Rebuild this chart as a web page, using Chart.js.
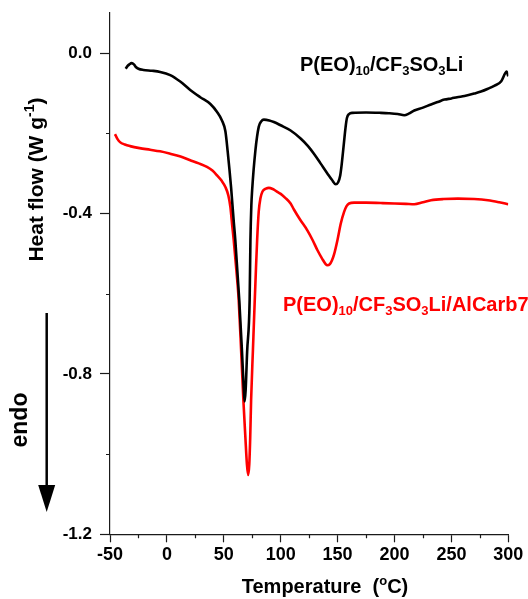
<!DOCTYPE html>
<html>
<head>
<meta charset="utf-8">
<script src="https://cdn.jsdelivr.net/npm/chart.js@4.4.1/dist/chart.umd.min.js"></script>
<style>
  html, body { margin: 0; padding: 0; background: #fff; }
  #c { display: block; }
</style>
</head>
<body>
<canvas id="c" width="528" height="599"></canvas>
<script>
// DSC heating traces, heat flow in W/g against temperature in °C
const tempNeat = [-36.2, -34.5, -33.0, -30.9, -29.0, -27.5, -25.0, -20.6, -13.0, -5.9, 2.9, 11.7, 20.5, 29.3, 38.2, 44.1, 48.4, 51.4, 53.4, 56.4, 58.6, 60.1, 63.6, 66.0, 67.5, 68.3, 69.2, 70.5, 72.7, 73.4, 74.2, 74.9, 77.8, 80.7, 83.0, 85.2, 90.0, 94.0, 99.9, 108.7, 117.5, 124.0, 129.2, 135.0, 141.0, 145.0, 148.4, 150.5, 152.3, 153.5, 154.8, 155.7, 157.0, 158.2, 160.0, 163.1, 175.0, 188.0, 195.0, 202.8, 208.6, 212.5, 217.4, 225.0, 232.1, 238.0, 243.9, 250.0, 255.0, 261.5, 270.0, 276.0, 282.1, 288.0, 293.8, 297.3, 298.5, 300.0];
const flowNeat = [-0.039, -0.032, -0.028, -0.025, -0.028, -0.034, -0.039, -0.042, -0.044, -0.047, -0.055, -0.071, -0.092, -0.110, -0.127, -0.147, -0.168, -0.195, -0.245, -0.335, -0.415, -0.466, -0.616, -0.745, -0.835, -0.869, -0.840, -0.745, -0.616, -0.466, -0.380, -0.342, -0.242, -0.184, -0.170, -0.166, -0.168, -0.172, -0.180, -0.193, -0.213, -0.232, -0.251, -0.275, -0.300, -0.316, -0.327, -0.322, -0.305, -0.280, -0.245, -0.220, -0.185, -0.162, -0.152, -0.149, -0.148, -0.149, -0.150, -0.152, -0.155, -0.151, -0.143, -0.136, -0.128, -0.122, -0.116, -0.113, -0.110, -0.107, -0.101, -0.096, -0.089, -0.081, -0.070, -0.050, -0.046, -0.058];

const tempComposite = [-45.6, -43.5, -41.2, -37.0, -32.4, -24.0, -14.7, -6.0, 2.9, 12.0, 20.5, 28.0, 35.2, 40.0, 44.1, 48.0, 51.4, 54.0, 55.8, 57.4, 58.7, 61.0, 63.1, 65.2, 67.2, 69.0, 70.3, 71.4, 72.4, 73.2, 74.0, 75.6, 77.2, 78.3, 79.3, 80.7, 82.2, 84.0, 87.0, 89.6, 93.0, 97.0, 100.0, 104.0, 108.7, 111.6, 117.0, 123.4, 128.0, 132.2, 136.5, 139.5, 141.0, 143.0, 145.0, 146.9, 149.9, 152.8, 155.7, 158.0, 160.1, 164.5, 175.0, 188.0, 200.0, 210.0, 217.4, 225.0, 232.1, 243.0, 255.7, 270.0, 282.1, 292.0, 300.0];
const flowComposite = [-0.202, -0.214, -0.222, -0.228, -0.232, -0.237, -0.241, -0.245, -0.251, -0.258, -0.267, -0.275, -0.284, -0.293, -0.305, -0.318, -0.334, -0.355, -0.384, -0.430, -0.466, -0.540, -0.616, -0.740, -0.865, -0.960, -1.025, -1.052, -1.025, -0.960, -0.865, -0.740, -0.616, -0.535, -0.466, -0.395, -0.362, -0.345, -0.338, -0.336, -0.339, -0.346, -0.351, -0.361, -0.375, -0.390, -0.415, -0.442, -0.466, -0.491, -0.513, -0.526, -0.529, -0.527, -0.517, -0.502, -0.466, -0.425, -0.396, -0.381, -0.375, -0.373, -0.373, -0.374, -0.375, -0.376, -0.377, -0.372, -0.367, -0.364, -0.363, -0.364, -0.367, -0.372, -0.377];

const xTicks = [-50, 0, 50, 100, 150, 200, 250, 300];
const xMinorTicks = [-25, 25, 75, 125, 175, 225, 275];
const yTicks = [0.0, -0.4, -0.8, -1.2];
const yMinorTicks = [-0.2, -0.6, -1.0];

// rich-text pieces (sub = subscript, sup = superscript)
const labelNeat = [{t: 'P(EO)'}, {t: '10', sub: true}, {t: '/CF'}, {t: '3', sub: true}, {t: 'SO'}, {t: '3', sub: true}, {t: 'Li'}];
const labelComposite = [{t: 'P(EO)'}, {t: '10', sub: true}, {t: '/CF'}, {t: '3', sub: true}, {t: 'SO'}, {t: '3', sub: true}, {t: 'Li/AlCarb7'}];
const yTitle = [{t: 'Heat flow (W g'}, {t: '-1', sup: true}, {t: ')'}];
const xTitle = [{t: 'Temperature  ('}, {t: 'o', sup: true}, {t: 'C)'}];

const FONT = '"Liberation Sans", Arial, Helvetica, sans-serif';
const AXIS_COLOR = '#1a1a1a';

function pieceSize(p, size) { return (p.sub || p.sup) ? Math.round(size * 0.66) : size; }

function richWidth(ctx, parts, size) {
  let w = 0;
  for (const p of parts) {
    ctx.font = 'bold ' + pieceSize(p, size) + 'px ' + FONT;
    w += ctx.measureText(p.t).width;
  }
  return w;
}

function drawRich(ctx, parts, x, y, size, color) {
  ctx.save();
  ctx.fillStyle = color;
  ctx.textAlign = 'left';
  ctx.textBaseline = 'alphabetic';
  let cx = x;
  for (const p of parts) {
    ctx.font = 'bold ' + pieceSize(p, size) + 'px ' + FONT;
    const dy = p.sub ? size * 0.22 : (p.sup ? -size * 0.40 : 0);
    ctx.fillText(p.t, cx, y + dy);
    cx += ctx.measureText(p.t).width;
  }
  ctx.restore();
}

// minor ticks, axis titles, trace labels and the endotherm arrow
const decorations = {
  id: 'decorations',
  afterDraw(chart) {
    const ctx = chart.ctx;
    const xs = chart.scales.x, ys = chart.scales.y;
    const area = chart.chartArea;

    ctx.save();
    ctx.strokeStyle = AXIS_COLOR;
    ctx.lineWidth = 1.2;
    ctx.beginPath();
    for (const v of xMinorTicks) {
      const px = Math.round(xs.getPixelForValue(v)) + 0.5;
      ctx.moveTo(px, area.bottom);
      ctx.lineTo(px, area.bottom + 4);
    }
    for (const v of yMinorTicks) {
      const py = Math.round(ys.getPixelForValue(v)) + 0.5;
      ctx.moveTo(area.left, py);
      ctx.lineTo(area.left - 4, py);
    }
    ctx.stroke();
    ctx.restore();

    // axis titles
    const xw = richWidth(ctx, xTitle, 20);
    drawRich(ctx, xTitle, 325 - xw / 2, 593, 20, '#000');

    const yw = richWidth(ctx, yTitle, 21);
    ctx.save();
    ctx.translate(42.5, 179.5);
    ctx.rotate(-Math.PI / 2);
    drawRich(ctx, yTitle, -yw / 2, 0, 21, '#000');
    ctx.restore();

    // trace labels
    drawRich(ctx, labelNeat, 300, 71, 20, '#000');
    drawRich(ctx, labelComposite, 283, 310.5, 20, '#ff0000');

    // endo arrow
    ctx.save();
    ctx.translate(26.5, 420);
    ctx.rotate(-Math.PI / 2);
    ctx.font = 'bold 23px ' + FONT;
    ctx.fillStyle = '#000';
    ctx.textAlign = 'center';
    ctx.textBaseline = 'alphabetic';
    ctx.fillText('endo', 0, 0);
    ctx.restore();

    ctx.save();
    ctx.strokeStyle = '#000';
    ctx.fillStyle = '#000';
    ctx.lineWidth = 2.5;
    ctx.beginPath();
    ctx.moveTo(46.7, 313);
    ctx.lineTo(46.7, 488);
    ctx.stroke();
    ctx.beginPath();
    ctx.moveTo(38.2, 485);
    ctx.lineTo(55.2, 485);
    ctx.lineTo(46.7, 512);
    ctx.closePath();
    ctx.fill();
    ctx.restore();
  }
};

const toPoints = (xs, ys) => xs.map((x, i) => ({x: x, y: ys[i]}));

new Chart(document.getElementById('c'), {
  type: 'line',
  data: {
    datasets: [
      {
        label: 'P(EO)10/CF3SO3Li',
        data: toPoints(tempNeat, flowNeat),
        borderColor: '#000000',
        borderWidth: 2.6,
        pointRadius: 0,
        fill: false,
        cubicInterpolationMode: 'monotone'
      },
      {
        label: 'P(EO)10/CF3SO3Li/AlCarb7',
        data: toPoints(tempComposite, flowComposite),
        borderColor: '#ff0000',
        borderWidth: 2.6,
        pointRadius: 0,
        fill: false,
        cubicInterpolationMode: 'monotone'
      }
    ]
  },
  options: {
    responsive: false,
    animation: false,
    devicePixelRatio: 1,
    layout: { padding: { left: 0, right: 19.7, top: 13, bottom: 0 } },
    plugins: { legend: { display: false }, tooltip: { enabled: false } },
    scales: {
      x: {
        type: 'linear',
        min: -50,
        max: 300,
        afterBuildTicks: s => { s.ticks = xTicks.map(v => ({value: v})); },
        afterFit: s => { s.height = 64.7; s.paddingLeft = 0; s.paddingRight = 0; },
        border: { display: true, color: AXIS_COLOR, width: 1.2 },
        grid: { display: true, drawOnChartArea: false, drawTicks: true, tickLength: 8, color: AXIS_COLOR, tickWidth: 1.2 },
        ticks: {
          color: '#000',
          padding: 2,
          maxRotation: 0,
          font: { family: FONT, size: 18, weight: 'bold' },
          callback: v => String(v)
        }
      },
      y: {
        type: 'linear',
        min: -1.2,
        max: 0.1,
        afterBuildTicks: s => { s.ticks = yTicks.map(v => ({value: v})); },
        afterFit: s => { s.width = 110; s.paddingTop = 0; s.paddingBottom = 0; },
        border: { display: true, color: AXIS_COLOR, width: 1.2 },
        grid: { display: true, drawOnChartArea: false, drawTicks: true, tickLength: 10, color: AXIS_COLOR, tickWidth: 1.2 },
        ticks: {
          color: '#000',
          padding: 8,
          font: { family: FONT, size: 17, weight: 'bold' },
          callback: v => (Math.abs(v) < 1e-9 ? 0 : v).toFixed(1)
        }
      }
    }
  },
  plugins: [decorations]
});
</script>
</body>
</html>
